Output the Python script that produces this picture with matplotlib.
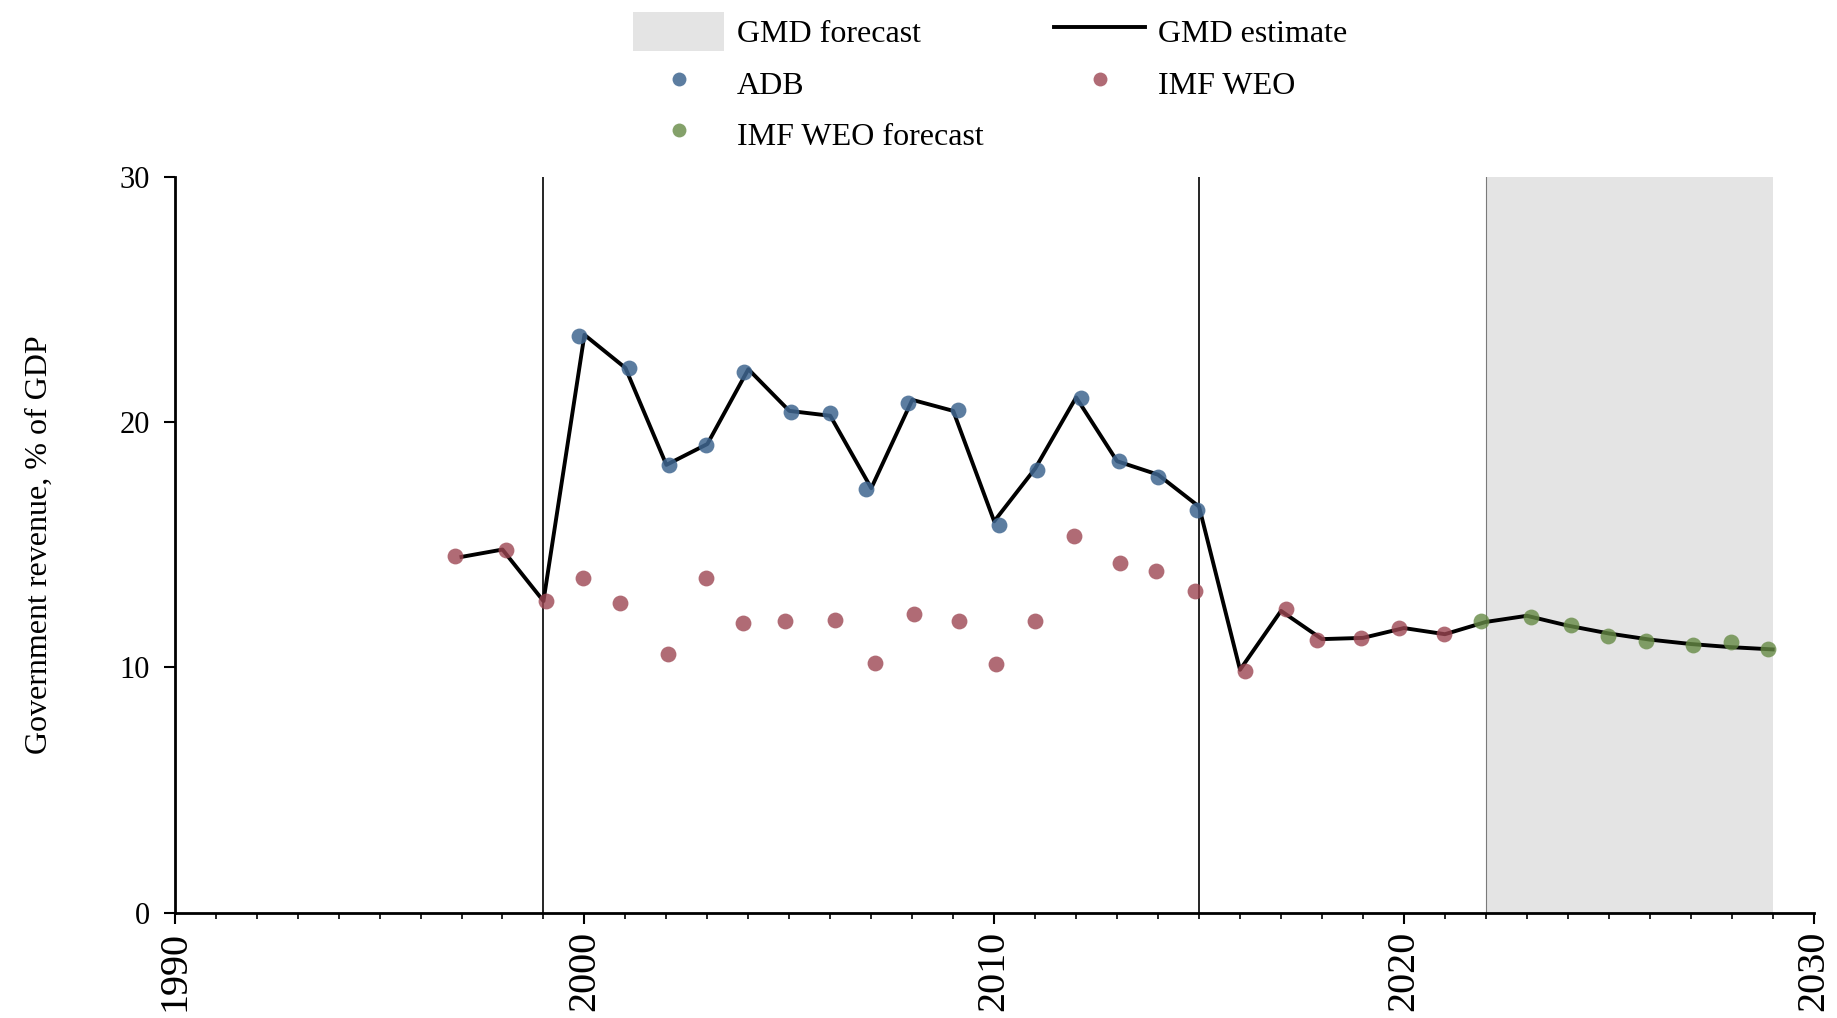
import matplotlib
matplotlib.use("Agg")
import matplotlib.pyplot as plt
from matplotlib.patches import Patch
from matplotlib.lines import Line2D
import numpy as np

plt.rcParams['font.family'] = ['Liberation Serif', 'DejaVu Serif']

# GMD estimate (line), one value per year
gmd_years = list(range(1997, 2030))
gmd_vals = [14.5, 14.8, 12.7, 23.55, 22.2, 18.25, 19.1, 22.15, 20.45, 20.25,
            17.3, 20.9, 20.45, 15.95, 18.1, 21.0, 18.4, 17.85, 16.55, 9.9,
            12.3, 11.15, 11.2, 11.6, 11.35, 11.85, 12.1, 11.7, 11.38, 11.13,
            10.95, 10.82, 10.73]

# source points (x positions as drawn, slightly jittered around the year)
adb_x = [1999.86, 2001.09, 2002.07, 2002.97, 2003.90, 2005.05, 2005.99, 2006.88,
         2007.89, 2009.11, 2010.11, 2011.04, 2012.12, 2013.04, 2014.01, 2014.96]
adb_y = [23.51, 22.19, 18.23, 19.05, 22.02, 20.39, 20.36, 17.26,
         20.79, 20.49, 15.82, 18.06, 20.97, 18.40, 17.76, 16.40]

imf_x = [1996.84, 1998.08, 1999.06, 1999.96, 2000.88, 2002.05, 2002.97, 2003.88,
         2004.89, 2006.11, 2007.10, 2008.04, 2009.13, 2010.04, 2011.00, 2011.96,
         2013.06, 2013.95, 2014.90, 2016.13, 2017.13, 2017.87, 2018.95, 2019.88,
         2020.97]
imf_y = [14.52, 14.77, 12.69, 13.62, 12.61, 10.56, 13.66, 11.81,
         11.87, 11.91, 10.18, 12.16, 11.88, 10.13, 11.87, 15.36,
         14.24, 13.92, 13.10, 9.85, 12.36, 11.13, 11.21, 11.59,
         11.35]

fc_x = [2021.87, 2023.09, 2024.08, 2024.98, 2025.90, 2027.06, 2027.99, 2028.88]
fc_y = [11.88, 12.07, 11.73, 11.27, 11.09, 10.90, 11.03, 10.73]

breaks = [1999, 2015]
forecast_start, forecast_end = 2022, 2029

c_adb = '#3f6690'
c_imf = '#9c4652'
c_fc = '#668a45'

fig = plt.figure(figsize=(18.37, 10.18), dpi=100)
ax = fig.add_axes([0.0951, 0.1034, 0.8922, 0.7232])

ax.axvspan(forecast_start, forecast_end, color='#e4e4e4', lw=0, zorder=0)
ax.axvline(forecast_start, color='#7a7a7a', lw=0.8, zorder=1)
for b in breaks:
    ax.axvline(b, color='black', lw=1.2, zorder=1)

ax.plot(gmd_years, gmd_vals, color='black', lw=2.8, zorder=2)
ax.scatter(adb_x, adb_y, s=130, color=c_adb, alpha=0.85, lw=0, zorder=3)
ax.scatter(imf_x, imf_y, s=130, color=c_imf, alpha=0.8, lw=0, zorder=3)
ax.scatter(fc_x, fc_y, s=130, color=c_fc, alpha=0.8, lw=0, zorder=3)

ax.set_xlim(1990, 2030)
ax.set_ylim(0, 30)
ax.set_xticks(np.arange(1990, 2031, 10))
ax.set_xticks(np.arange(1990, 2031, 1), minor=True)
ax.set_yticks([0, 10, 20, 30])
ax.tick_params(axis='x', which='major', direction='out', length=8, width=1.5,
               pad=5, labelsize=29, labelrotation=90)
ax.tick_params(axis='x', which='minor', direction='out', length=4, width=1.2)
ax.tick_params(axis='y', which='major', direction='out', length=8, width=1.5,
               pad=10, labelsize=22)

for s in ['top', 'right']:
    ax.spines[s].set_visible(False)
for s in ['left', 'bottom']:
    ax.spines[s].set_linewidth(2)

ax.set_ylabel('Government revenue, % of GDP', fontsize=23)
ax.yaxis.set_label_coords(-0.074, 0.5)

handles = [
    Patch(facecolor='#e4e4e4', edgecolor='none', label='GMD forecast'),
    Line2D([], [], marker='o', ls='none', color=c_adb, alpha=0.85, markersize=10, markeredgewidth=0, label='ADB'),
    Line2D([], [], marker='o', ls='none', color=c_fc, alpha=0.8, markersize=10, markeredgewidth=0, label='IMF WEO forecast'),
    Line2D([], [], color='black', lw=2.8, label='GMD estimate'),
    Line2D([], [], marker='o', ls='none', color=c_imf, alpha=0.8, markersize=10, markeredgewidth=0, label='IMF WEO'),
]
fig.legend(handles=handles, ncol=2, loc='upper center', bbox_to_anchor=(0.539, 1.016),
           frameon=False, fontsize=23, handlelength=2.85, handleheight=1.5,
           handletextpad=0.4, columnspacing=2.2, labelspacing=0.38)

fig.savefig('out.png', dpi=100)
